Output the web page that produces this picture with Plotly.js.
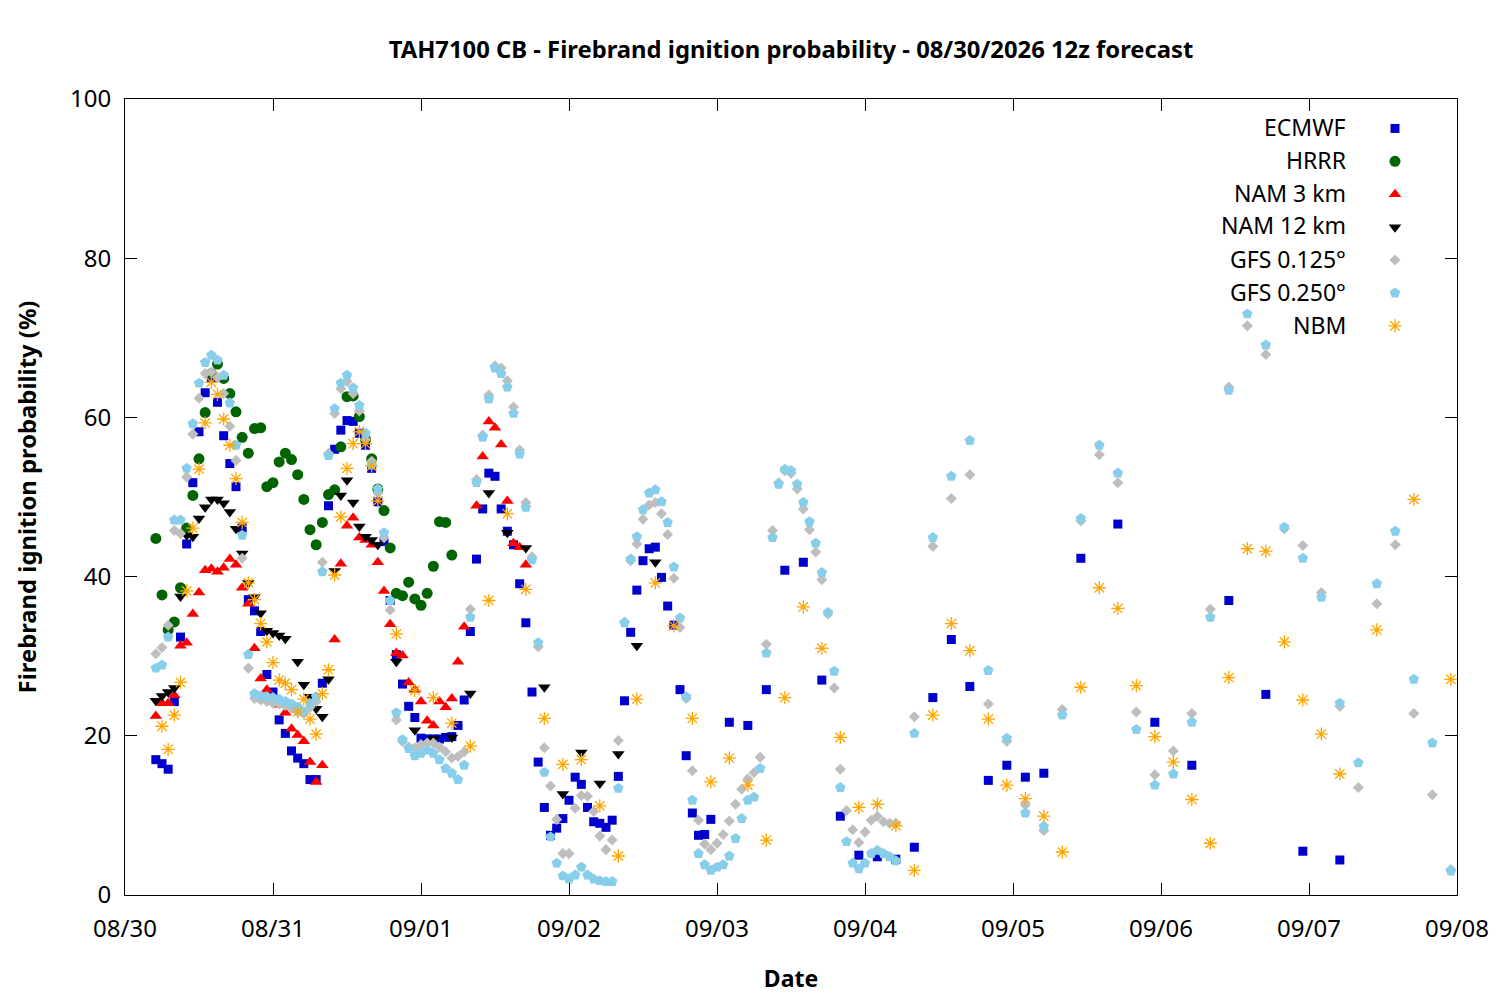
<!DOCTYPE html>
<html>
<head>
<meta charset="utf-8">
<script src="https://cdn.plot.ly/plotly-3.0.1.min.js"></script>
<style>
  html, body { margin: 0; padding: 0; background: #fff; }
  #chart { width: 1500px; height: 1000px; }
</style>
</head>
<body>
<div id="chart"></div>
<script>
// Firebrand ignition probability, hours counted from 08/30 00:00

// ── Data ──────────────────────────────────────────────────────────────────────
const ecmwfHours = [5,6,7,8,9,10,11,12,13,14,15,16,17,18,19,20,21,22,23,24,25,26,27,28,29,30,31,32,33,34,35,36,37,38,39,40,
  41,42,43,44,45,46,47,48,49,50,51,52,53,54,55,56,57,58,59,60,61,62,63,64,65,66,67,68,69,70,71,72,73,74,75,76,77,78,79,80,
  81,82,83,84,85,86,87,88,89,90,91,92,93,94,95,98,101,104,107,110,113,116,119,122,125,128,131,134,137,140,143,146,149,
  155,161,167,173,179,185,191,197];
const ecmwfVals = [17.0,16.5,15.8,24.3,32.4,44.1,51.8,58.2,63.1,64.9,61.9,57.7,54.2,51.3,46.1,37.1,35.7,33.1,27.7,25.5,22.0,
  20.3,18.1,17.2,16.5,14.5,14.5,26.6,48.9,56.0,58.4,59.6,59.5,58.0,56.5,53.6,49.4,44.4,37.0,30.2,26.5,23.7,22.3,19.7,19.6,
  19.6,19.6,19.8,19.9,21.3,24.5,33.1,42.2,48.5,53.0,52.6,48.5,45.7,44.0,39.1,34.2,25.5,16.7,11.0,7.5,8.4,9.6,11.9,14.8,13.9,
  11.0,9.2,9.0,8.5,9.4,14.9,24.4,33.0,38.3,42.0,43.5,43.7,39.9,36.3,33.9,25.8,17.5,10.3,7.5,7.6,9.5,21.7,21.3,25.8,40.8,
  41.8,27.0,9.9,5.0,4.8,4.5,6.0,24.8,32.1,26.2,14.4,16.3,14.8,15.3,42.3,46.6,21.7,16.3,37.0,25.2,5.5,4.4];

const hrrrHours = [5,6,7,8,9,10,11,12,13,14,15,16,17,18,19,20,21,22,23,24,25,26,27,28,29,30,31,32,33,34,35,36,37,38,39,40,
  41,42,43,44,45,46,47,48,49,50,51,52,53];
const hrrrVals = [44.8,37.7,33.3,34.3,38.6,46.1,50.2,54.8,60.6,65.5,66.7,64.9,63.0,60.7,57.5,55.5,58.6,58.7,51.3,51.8,54.4,
  55.5,54.7,52.8,49.7,45.9,44.0,46.8,50.3,50.9,56.3,62.6,62.7,60.1,57.2,54.8,51.0,48.3,43.6,37.9,37.6,39.3,37.2,36.4,37.9,
  41.3,46.9,46.8,42.7];

const nam3Hours = [5,6,7,8,9,10,11,12,13,14,15,16,17,18,19,20,21,22,23,24,25,26,27,28,29,30,31,32,34,35,36,37,38,39,40,
  41,42,43,44,45,46,47,48,49,50,51,52,53,54,55,57,58,59,60,61,62,63,64,65];
const nam3Vals = [22.5,24.1,24.1,25.1,31.3,31.7,35.3,38.0,40.8,41.0,40.6,41.1,42.2,41.5,38.6,36.6,31.0,27.2,25.8,24.2,23.9,
  22.9,20.9,20.1,19.3,16.7,14.2,16.3,32.1,41.6,46.4,47.4,44.9,44.6,44.0,41.8,38.2,34.0,30.4,30.1,26.7,25.8,24.3,21.9,21.3,
  24.3,23.6,24.7,29.3,33.7,48.9,55.1,59.5,58.7,56.6,49.5,44.2,43.7,41.5];

const nam12Hours = [5,6,7,8,9,10,11,12,13,14,15,16,17,18,19,20,21,22,23,24,25,26,28,29,30,31,32,33,34,35,36,37,38,39,40,41,
  44,47,50,53,56,59,62,65,68,71,74,77,80,83,86];
const nam12Vals = [24.4,25.0,25.5,26.0,37.5,45.2,45.0,47.3,48.7,49.7,49.7,49.2,48.1,46.0,42.9,39.2,37.4,35.4,33.2,32.9,32.6,
  32.2,29.3,26.4,24.9,23.4,22.4,27.1,40.7,50.2,52.1,49.3,46.3,45.0,44.6,44.0,29.3,20.7,19.6,19.8,25.3,50.5,45.5,43.6,26.1,
  12.7,17.9,14.0,17.7,31.3,41.8];

const gfsHours = [5,6,7,8,9,10,11,12,13,14,15,16,17,18,19,20,21,22,23,24,25,26,27,28,29,30,31,32,33,34,35,36,37,38,39,40,
  41,42,43,44,45,46,47,48,49,50,51,52,53,54,55,56,57,58,59,60,61,62,63,64,65,66,67,68,69,70,71,72,73,74,75,76,77,78,79,80,
  81,82,83,84,85,86,87,88,89,90,91,92,93,94,95,96,97,98,99,100,101,102,103,104,105,106,107,108,109,110,111,112,113,114,115,
  116,117,118,119,120,121,122,123,124,125,128,131,134,137,140,143,146,149,152,155,158,161,164,167,170,173,176,179,182,185,
  188,191,194,197,200,203,206,209,212,215];
const gfs125Vals = [30.3,31.1,33.9,45.8,45.4,52.5,57.9,62.4,65.5,65.7,65.0,63.0,58.9,54.6,42.3,28.5,24.7,24.5,24.3,24.1,24.0,
  23.8,23.5,23.0,22.8,23.6,24.3,41.8,55.5,60.5,63.6,64.5,63.0,60.8,57.2,54.5,50.5,44.9,35.8,22.0,19.3,18.6,18.5,18.9,19.1,
  19.1,18.6,18.0,17.2,17.4,18.0,35.9,52.2,57.8,62.8,66.5,66.2,64.6,61.3,55.9,49.3,42.5,31.2,18.5,13.7,9.5,5.2,5.2,10.9,12.5,
  12.4,10.5,7.4,5.7,6.9,19.4,34.3,42.0,44.1,47.2,49.0,49.3,47.9,45.3,39.8,33.6,24.7,15.6,9.4,6.4,5.7,6.5,7.6,9.3,11.4,13.3,
  14.6,15.4,17.3,31.5,45.8,51.8,53.3,53.0,51.0,48.5,45.9,43.1,39.6,35.3,26.0,15.8,10.6,8.2,6.6,7.9,9.4,9.9,9.2,9.0,9.0,
  22.4,43.8,49.8,52.8,24.0,19.3,11.3,8.1,23.3,47.0,55.3,51.8,23.0,15.1,18.1,22.8,35.9,63.8,71.5,67.9,46.0,43.9,38.0,23.7,
  13.5,36.6,44.0,22.8,12.6,3.2];
const gfs250Vals = [28.5,28.9,32.4,47.1,47.1,53.6,59.2,64.3,66.9,67.8,67.2,65.3,61.8,56.5,45.2,30.2,25.3,25.0,24.9,24.8,24.6,
  24.3,24.0,23.6,23.0,24.1,24.9,40.6,55.2,61.1,64.3,65.3,63.7,61.5,58.0,54.0,51.0,45.5,37.0,22.9,19.5,18.4,17.5,17.8,18.2,
  17.8,17.0,15.9,15.3,14.5,16.3,34.9,51.8,57.5,62.3,66.2,65.5,63.8,60.5,55.4,48.7,42.1,31.7,15.4,7.3,4.0,2.4,2.0,2.5,3.5,
  2.5,2.0,1.8,1.7,1.7,13.4,34.2,42.2,45.0,48.4,50.5,50.9,49.4,46.8,41.2,34.8,24.9,11.9,5.2,3.8,3.1,3.5,3.8,4.9,7.1,9.6,
  11.9,12.3,15.9,30.4,44.9,51.6,53.5,53.3,51.6,49.3,46.9,44.2,40.5,35.5,28.1,13.5,6.7,4.0,3.3,4.0,5.2,5.6,5.2,4.8,4.3,
  20.3,44.9,52.6,57.1,28.2,19.7,10.3,8.6,22.6,47.3,56.5,53.0,20.8,13.8,15.2,21.7,34.9,63.4,73.0,69.1,46.2,42.3,37.4,24.1,
  16.6,39.1,45.7,27.1,19.1,3.0];

const nbmHours = [6,7,8,9,10,11,12,13,14,15,16,17,18,19,20,21,22,23,24,25,26,27,28,29,30,31,32,33,34,35,36,37,38,39,40,41,
  44,47,50,53,56,59,62,65,68,71,74,77,80,83,86,89,92,95,98,101,104,107,110,113,116,119,122,125,128,131,134,137,140,143,146,
  149,152,155,158,161,164,167,170,173,176,179,182,185,188,191,194,197,203,209,215];
const nbmVals = [21.2,18.3,22.6,26.7,38.2,46.1,53.5,59.3,64.4,62.9,59.8,56.5,52.3,46.8,39.2,37.1,34.1,31.8,29.2,27.0,26.6,
  25.8,23.0,24.6,22.1,20.2,25.3,28.3,40.2,47.5,53.6,56.7,58.2,56.7,53.9,49.5,32.8,25.7,24.8,21.6,18.7,37.0,47.9,38.4,22.2,
  16.4,17.0,11.2,4.9,24.6,39.2,33.8,22.2,14.2,17.2,13.8,6.9,24.8,36.2,31.0,19.8,11.0,11.4,8.7,3.1,22.6,34.1,30.7,22.1,13.8,
  12.1,9.9,5.4,26.1,38.6,36.0,26.3,19.9,16.7,12.0,6.5,27.3,43.5,43.2,31.8,24.5,20.2,15.2,33.3,49.7,27.1];

const seriesNames = ['ECMWF', 'HRRR', 'NAM 3 km', 'NAM 12 km', 'GFS 0.125°', 'GFS 0.250°', 'NBM'];
const dayTicks = ['08/30','08/31','09/01','09/02','09/03','09/04','09/05','09/06','09/07','09/08'];

// ── Helpers ───────────────────────────────────────────────────────────────────
const BASE = Date.UTC(2026, 7, 30, 0, 0, 0);
function toDate(h) {
  return new Date(BASE + h * 3600000).toISOString().slice(0, 19).replace('T', ' ');
}
const FONT = 'Noto Sans, Open Sans, DejaVu Sans, sans-serif';

function mk(name, hours, vals, marker) {
  return {
    type: 'scatter', mode: 'markers', name: ' ',
    x: hours.map(toDate), y: vals,
    marker: marker,
    hovertemplate: name + '<br>%{x}<br>%{y:.1f} %<extra></extra>',
  };
}

const traces = [
  mk(seriesNames[0], ecmwfHours, ecmwfVals, { symbol: 'square', size: 9, color: '#0000CC' }),
  mk(seriesNames[1], hrrrHours, hrrrVals, { symbol: 'circle', size: 11, color: '#006400' }),
  mk(seriesNames[2], nam3Hours, nam3Vals, { symbol: 'triangle-up', size: 11, color: '#FF0000' }),
  mk(seriesNames[3], nam12Hours, nam12Vals, { symbol: 'triangle-down', size: 11, color: '#000000' }),
  mk(seriesNames[4], gfsHours, gfs125Vals, { symbol: 'diamond', size: 8.5, color: '#BEBEBE' }),
  mk(seriesNames[5], gfsHours, gfs250Vals, { symbol: 'pentagon', size: 11, color: '#87CEEB' }),
  mk(seriesNames[6], nbmHours, nbmVals, { symbol: 'asterisk-open', size: 11, color: '#FFA500',
                                          line: { color: '#FFA500', width: 1.3 } }),
];

// ── Layout ────────────────────────────────────────────────────────────────────
const plotL = 125, plotR = 1457, plotT = 99, plotB = 895;
const legendRowY = k => 126.5 + 33 * k;        // pixel rows of the key
const legendAnn = seriesNames.map((n, k) => ({
  text: n, xref: 'paper', yref: 'paper',
  x: (1348 - plotL) / (plotR - plotL), xanchor: 'right',
  y: (plotB - legendRowY(k)) / (plotB - plotT), yanchor: 'middle',
  showarrow: false, font: { family: FONT, size: 23, color: '#000' },
}));

const axisCommon = {
  showline: true, linecolor: '#000', linewidth: 1, mirror: 'ticks',
  ticks: 'inside', ticklen: 12, tickwidth: 1, tickcolor: '#000',
  showgrid: false, zeroline: false,
  tickfont: { family: FONT, size: 24, color: '#000' },
};

const layout = {
  width: 1500, height: 1000,
  margin: { l: plotL, r: 1500 - plotR, t: plotT, b: 1000 - plotB },
  paper_bgcolor: '#fff', plot_bgcolor: '#fff',
  title: {
    text: '<b>TAH7100 CB - Firebrand ignition probability - 08/30/2026 12z forecast</b>',
    font: { family: FONT, size: 23.8, color: '#000' },
    x: 0.5, xanchor: 'center', xref: 'paper',
    y: 1 - 50 / 1000, yanchor: 'middle', yref: 'container',
  },
  xaxis: Object.assign({}, axisCommon, {
    type: 'date',
    range: [toDate(0), toDate(216)],
    tickvals: dayTicks.map((_, i) => toDate(24 * i)),
    ticktext: dayTicks,
    ticklabelstandoff: 12,
    title: { text: '<b>Date</b>', font: { family: FONT, size: 23, color: '#000' }, standoff: 28 },
  }),
  yaxis: Object.assign({}, axisCommon, {
    range: [0, 100], dtick: 20, tick0: 0,
    ticklabelstandoff: 8,
    title: { text: '<b>Firebrand ignition probability (%)</b>',
             font: { family: FONT, size: 23.8, color: '#000' }, standoff: 26 },
  }),
  showlegend: true,
  legend: {
    x: (1375 - plotL) / (plotR - plotL), xanchor: 'left',
    y: (plotB - 107) / (plotB - plotT), yanchor: 'top',
    bgcolor: 'rgba(0,0,0,0)', borderwidth: 0,
    font: { family: FONT, size: 23 }, tracegroupgap: 0,
  },
  annotations: legendAnn,
};

Plotly.newPlot('chart', traces, layout, { displayModeBar: false, staticPlot: true });
</script>
</body>
</html>
